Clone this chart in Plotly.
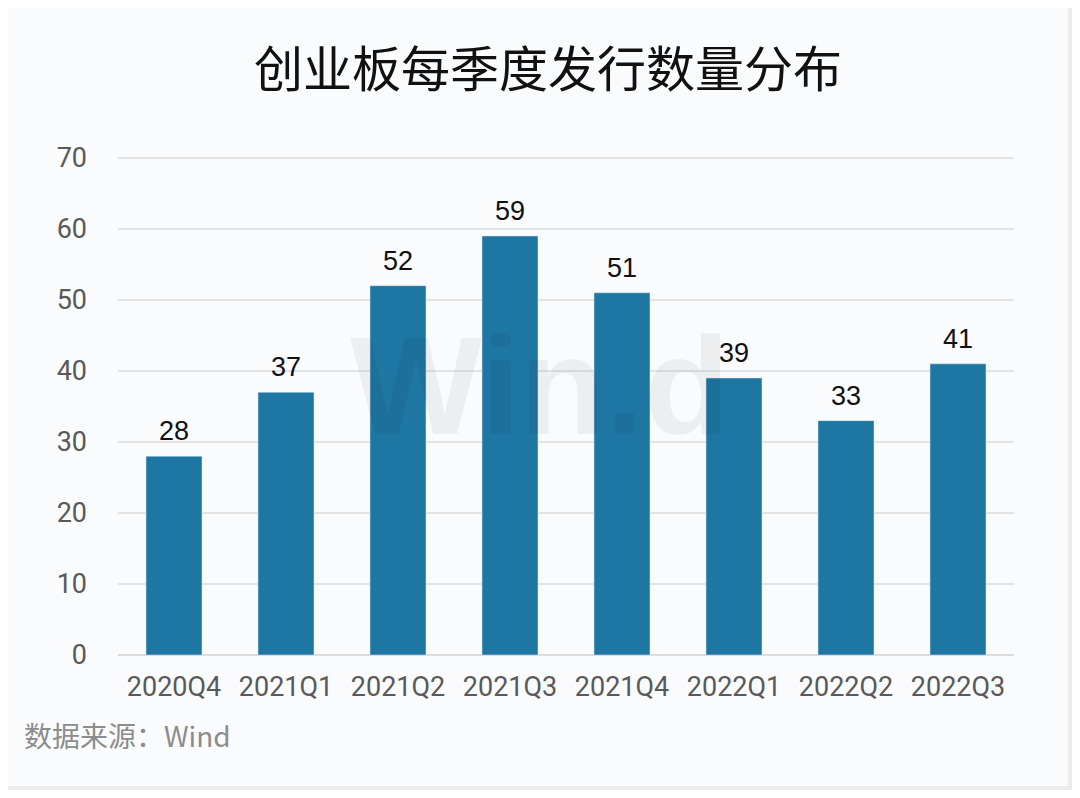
import plotly.graph_objects as go

quarters = ["2020Q4", "2021Q1", "2021Q2", "2021Q3", "2021Q4", "2022Q1", "2022Q2", "2022Q3"]
counts = [28, 37, 52, 59, 51, 39, 33, 41]
y_ticks = [0, 10, 20, 30, 40, 50, 60, 70]

cjk_font = "Noto Sans CJK SC, Noto Sans, sans-serif"
num_font = "Roboto, Noto Sans, sans-serif"
label_font = "Liberation Sans, Arial, sans-serif"

fig = go.Figure()

fig.add_trace(go.Bar(
    x=quarters,
    y=counts,
    marker_color="#1e77a3",
    hoverinfo="x+y",
))

# value labels above the bars
value_labels = [
    dict(x=q, y=v, text=str(v), xref="x", yref="y", showarrow=False,
         yanchor="bottom", yshift=8,
         font=dict(size=27, color="#111111", family=label_font))
    for q, v in zip(quarters, counts)
]

# card background with soft shadow
fig.add_shape(type="rect", xref="paper", yref="paper", x0=-0.123, x1=1.065, y0=-0.270, y1=1.294,
              line=dict(width=0), fillcolor="#ececec", layer="below")
fig.add_shape(type="rect", xref="paper", yref="paper", x0=-0.126, x1=1.060, y0=-0.262, y1=1.300,
              line=dict(width=0), fillcolor="#fafbfd", layer="below")

fig.update_layout(
    width=1080,
    height=798,
    margin=dict(l=110, r=74, t=147, b=151),
    paper_bgcolor="#ffffff",
    plot_bgcolor="rgba(0,0,0,0)",
    bargap=0.5,
    showlegend=False,
    title=dict(text="创业板每季度发行数量分布", x=0.5, xanchor="center", y=0.922, yanchor="middle",
               font=dict(size=49, color="#111111", family=cjk_font)),
    xaxis=dict(
        tickfont=dict(size=27, color="#595959", family=num_font),
        showgrid=False,
        ticks="",
        showline=False,
        ticklabelstandoff=13,
    ),
    yaxis=dict(
        range=[0, 70.4],
        tickvals=y_ticks,
        tickfont=dict(size=27, color="#595959", family=num_font),
        gridcolor="#e3e3e3",
        gridwidth=1.5,
        zeroline=True,
        zerolinecolor="#dcdcdc",
        zerolinewidth=1.5,
        ticklabelstandoff=30,
    ),
    annotations=value_labels + [
        dict(text="数据来源：Wind", xref="paper", yref="paper", x=-0.107, y=-0.160,
             xanchor="left", yanchor="middle", showarrow=False,
             font=dict(size=28, color="#8c8c8c", family=cjk_font)),
        dict(text="<b>Win.d</b>", xref="paper", yref="paper", x=0.471, y=0.540,
             xanchor="center", yanchor="middle", showarrow=False,
             font=dict(size=140, color="rgba(0,0,0,0.05)", family=label_font)),
    ],
)

fig.write_html("out.html")
